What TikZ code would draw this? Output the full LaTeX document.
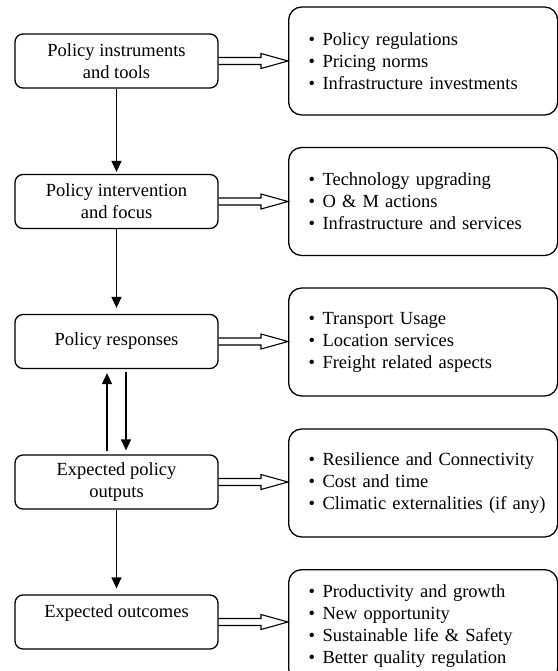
\documentclass[tikz,border=0pt]{standalone}
\usepackage{fontspec}
\setmainfont{Liberation Serif}
\usetikzlibrary{arrows.meta,calc}
\newcommand{\bitem}[1]{\mbox{\textbullet\hspace{0.4em}#1}}
\begin{document}
\begin{tikzpicture}[x=1pt, y=-1pt, >={Triangle[length=11pt,width=10pt]}, line width=1.3pt, line join=round, font=\fontsize{18.5}{22}\selectfont,
	hop/.style={draw, rounded corners=8pt, minimum width=203pt, minimum height=54pt, align=center, inner sep=0pt},
	ket/.style={draw, rounded corners=13pt, minimum width=269pt, minimum height=108pt, text width=229pt, inner xsep=20pt, inner ysep=0pt, align=left},
	hollow/.style={line width=1.1pt, line join=miter, to path={($(\tikztostart)+(0,-3.5)$) -- ($(\tikztotarget)+(-27,-3.5)$) -- ($(\tikztotarget)+(-27,-7.5)$) -- (\tikztotarget) -- ($(\tikztotarget)+(-27,7.5)$) -- ($(\tikztotarget)+(-27,3.5)$) -- ($(\tikztostart)+(0,3.5)$)}}]
	\useasboundingbox (0,0) rectangle (557,671);
	
	\node[hop] (A1) at (116.5,61) {Policy instruments\\and tools};
	\node[hop] (A2) at (116.5,201.5) {Policy intervention\\and focus};
	\node[hop] (A3) at (116.5,341.5) {Policy responses};
	\node[hop] (A4) at (116.5,482) {Expected policy\\outputs};
	\node[hop] (A5) at (116.5,622) {Expected outcomes\\\mbox{}};
	
	\node[ket, anchor=west] (B1) at (288,61) {\bitem{Policy regulations}\\\bitem{Pricing norms}\\\bitem{Infrastructure investments}};
	\node[ket, anchor=west] (B2) at (288,201.5) {\bitem{Technology upgrading}\\\bitem{O \& M actions}\\\bitem{Infrastructure and services}};
	\node[ket, anchor=west] (B3) at (288,342) {\bitem{Transport Usage}\\\bitem{Location services}\\\bitem{Freight related aspects}};
	\node[ket, anchor=west] (B4) at (288,483) {\bitem{Resilience and Connectivity}\\\bitem{Cost and time}\\\bitem{Climatic externalities (if any)}};
	\node[ket, anchor=north west, minimum height=112pt] (B5) at (288,569) {\bitem{Productivity and growth}\\\bitem{New opportunity}\\\bitem{Sustainable life \& Safety}\\\bitem{Better quality regulation}};
	
	\draw[->, shorten >=2pt] (A1) -- (A2);
	\draw[->, shorten >=6pt] (A2) -- (A3);
	\draw[->, shorten <=3pt, shorten >=4pt] ([xshift=-9.5pt]A4.north) -- ([xshift=-9.5pt]A3.south);
	\draw[->, shorten <=3pt, shorten >=4pt] ([xshift=9.5pt]A3.south) -- ([xshift=9.5pt]A4.north);
	\draw[->, shorten >=6pt] (A4) -- (A5);
	
	\foreach \i in {1,...,5}
	\draw[hollow] (A\i.east) to (A\i.east -| B\i.west);
\end{tikzpicture}
\end{document}
